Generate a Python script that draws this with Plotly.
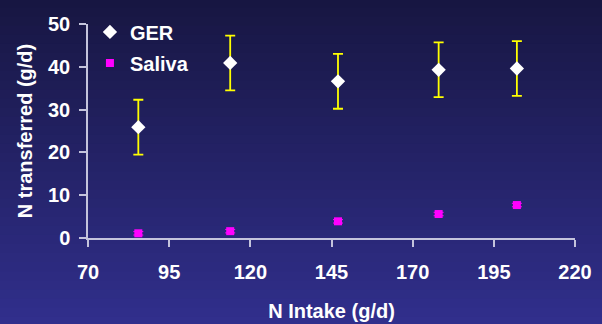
import plotly.graph_objects as go

intake = [85.5, 113.8, 147.0, 178.0, 202.1]
ger = [25.9, 40.9, 36.6, 39.3, 39.6]
ger_err = [6.4, 6.4, 6.4, 6.4, 6.4]
saliva = [1.1, 1.6, 3.9, 5.6, 7.7]
saliva_err = [0.4, 0.4, 0.4, 0.4, 0.4]
x_ticks = [70, 95, 120, 145, 170, 195, 220]
y_ticks = [0, 10, 20, 30, 40, 50]

font = "Liberation Sans, Arial, sans-serif"

fig = go.Figure()
fig.add_trace(go.Scatter(
    x=intake, y=ger, mode="markers", name="<b>GER</b>", legendgroup="a",
    marker=dict(symbol="diamond", size=11, color="white"),
    error_y=dict(type="data", array=ger_err, color="#ffff00", thickness=1.8, width=5),
))
fig.add_trace(go.Scatter(
    x=intake, y=saliva, mode="markers", name="<b>Saliva</b>", legendgroup="b",
    marker=dict(symbol="square", size=8, color="#ff00ff"),
    error_y=dict(type="data", array=saliva_err, color="#ff00ff", thickness=1, width=5),
))

# background gradient
top = (0x16, 0x15, 0x3e)
bot = (0x32, 0x30, 0x90)
n = 40
shapes = []
for i in range(n):
    t = i / (n - 1)
    c = tuple(int(round(top[k] + (bot[k] - top[k]) * t)) for k in range(3))
    shapes.append(dict(type="rect", xref="paper", yref="paper",
                       x0=-0.5, x1=1.5, y0=1.2 - (i + 1) * 1.7 / n - 0.005, y1=1.2 - i * 1.7 / n + 0.005,
                       fillcolor="rgb(%d,%d,%d)" % c, line=dict(width=0), layer="below"))

axis_common = dict(
    showgrid=False, zeroline=False, showline=True, linecolor="#c4c4dc", linewidth=1.5,
    ticks="outside", ticklen=7, tickcolor="#c4c4dc", tickwidth=1.5,
    tickfont=dict(family=font, size=20, color="white"), automargin=False,
)

fig.update_layout(
    width=602, height=324,
    margin=dict(l=88, r=27, t=16, b=86),
    paper_bgcolor="#23236c", plot_bgcolor="rgba(0,0,0,0)",
    shapes=shapes,
    showlegend=True,
    legend=dict(x=0.004, y=1.054, xanchor="left", yanchor="top", bgcolor="rgba(0,0,0,0)",
                font=dict(family=font, size=20, color="white"),
                traceorder="grouped", tracegroupgap=2, itemwidth=30),
    xaxis=dict(range=[70, 220], tickvals=x_ticks, ticktext=["<b>%d</b>" % v for v in x_ticks],
               ticklabelstandoff=8,
               title=dict(text="<b>N Intake (g/d)</b>", font=dict(family=font, size=20, color="white"), standoff=22),
               **axis_common),
    yaxis=dict(range=[0, 50], tickvals=y_ticks, ticktext=["<b>%d</b>" % v for v in y_ticks],
               ticklabelstandoff=5,
               title=dict(text="<b>N transferred (g/d)</b>", font=dict(family=font, size=20, color="white"), standoff=10),
               **axis_common),
)

fig.write_html("out.html", config={"displayModeBar": False},
               post_script="document.body.style.margin='0';")
